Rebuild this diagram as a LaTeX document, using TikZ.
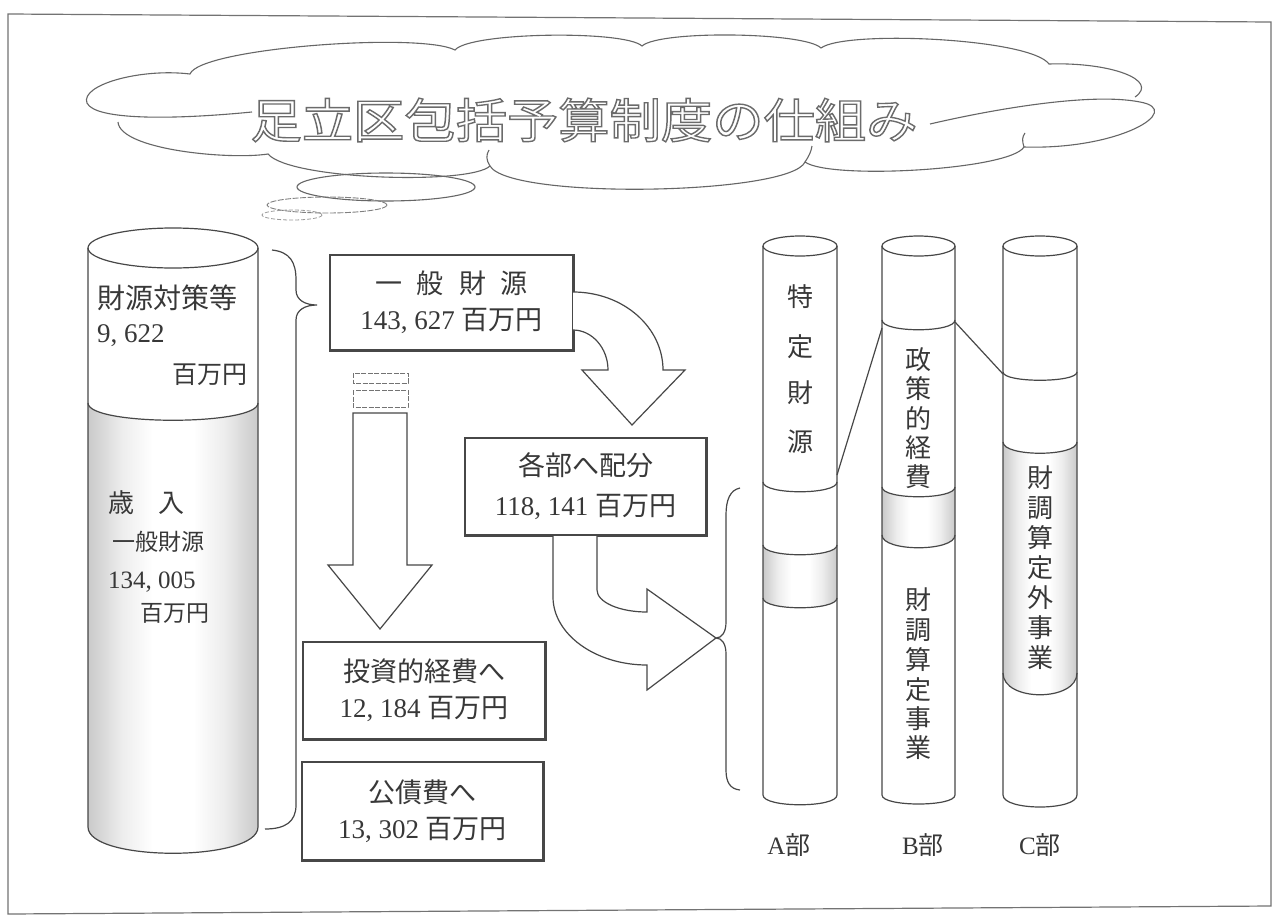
\documentclass[tikz,border=0pt]{standalone}
\usepackage{fontspec}
\setmainfont{Liberation Serif}
\newfontfamily\jp{Noto Sans CJK JP}
\usetikzlibrary{calc}
\newcommand\fsz[1]{\fontsize{#1}{#1}\selectfont}
\newcommand\titletext{\scalebox{1.14}[1.05]{\special{pdf:literal direct 1 Tr 1.3 w}足立区包括予算制度の仕組み\special{pdf:literal direct 0 Tr}}}
\pgfdeclarehorizontalshading{cylshade}{100bp}{color(0bp)=(black!21); color(25bp)=(black!21); color(35bp)=(black!7); color(44bp)=(white); color(56bp)=(white); color(65bp)=(black!7); color(75bp)=(black!21); color(100bp)=(black!21)}
\begin{document}
\begin{tikzpicture}[x=1pt,y=-1pt,
  ln/.style={draw=black!72,line width=1.2pt},
  cl/.style={draw=black!60,line width=1.1pt},
  tx/.style={text=black!78,inner sep=0pt},
  bx/.style={draw=black!72,line width=1.3pt,inner sep=0pt,align=center,text=black!78,font={\fontsize{27}{36}\selectfont}},
  shadowedge/.style={draw=black!72,line width=2.2pt},
  dashrect/.style={draw=black!55,line width=0.9pt,dash pattern=on 5pt off 1.5pt}]
\useasboundingbox (0,0) rectangle (1274,921);
\fill[white] (0,0) rectangle (1274,921);
% frame
\draw[black!55,line width=1.2pt] (8,14) -- (1271,22) -- (1271,906) -- (8,914) -- cycle;

% cloud
\draw[cl] (252,112) .. controls (170,120) and (95,120) .. (87,103)
  .. controls (80,85) and (140,68) .. (190,74)
  .. controls (200,48) and (420,32) .. (455,50)
  .. controls (470,32) and (625,30) .. (642,46)
  .. controls (660,30) and (805,32) .. (821,48)
  .. controls (845,30) and (1030,38) .. (1049,64)
  .. controls (1110,62) and (1160,80) .. (1135,97);
\draw[cl] (930,124) .. controls (990,110) and (1090,92) .. (1140,102)
  .. controls (1185,110) and (1120,150) .. (1024,147)
  .. controls (1010,170) and (830,180) .. (805,162)
  .. controls (790,195) and (510,200) .. (490,166)
  .. controls (470,185) and (290,180) .. (268,154)
  .. controls (230,160) and (120,150) .. (118,122);
\draw[cl] (805,162) .. controls (809,156) and (811,152) .. (812,146);
\draw[cl] (490,166) .. controls (486,160) and (486,155) .. (489,150);
\draw[cl] (1024,147) .. controls (1022,141) and (1022,137) .. (1025,133);
% thought bubbles
\draw[cl] (386,187) ellipse [x radius=89,y radius=14];
\draw[black!50,line width=0.9pt,dash pattern=on 6pt off 1.5pt] (327,205) ellipse [x radius=60,y radius=8];
\draw[black!40,line width=0.8pt,dash pattern=on 4pt off 2pt] (292,215) ellipse [x radius=30,y radius=5];
% title (outlined)
\node[inner sep=0pt,text=black!58,font={\fsz{45}\jp}] (title) at (584,120) {\titletext};

% left cylinder
\shade[shading=cylshade] (88,403) .. controls (88,426) and (258,426) .. (258,403) -- (258,827) .. controls (258,862) and (88,862) .. (88,827) -- cycle;
\draw[ln] (88,248) -- (88,827) .. controls (88,862) and (258,862) .. (258,827) -- (258,248);
\draw[ln] (173,248) ellipse [x radius=85,y radius=20];
\draw[ln] (88,403) .. controls (88,426) and (258,426) .. (258,403);
\node[tx,anchor=west,font={\fsz{28}\jp}] (zt) at (97,298) {財源対策等};
\node[tx,anchor=west,font=\fsz{27}] (zn) at (97,336) {9, 622};
\node[tx,anchor=east,font={\fsz{25}\jp}] (zu) at (248,375) {百万円};
\node[tx,anchor=west,font={\fsz{26}\jp}] (sa) at (108,503) {歳\hspace{24pt}入};
\node[tx,anchor=west,font={\fsz{23}\jp}] (sb) at (112,542) {一般財源};
\node[tx,anchor=west,font=\fsz{25}] (sn) at (108,582) {134, 005};
\node[tx,anchor=west,font={\fsz{23}\jp}] (su) at (140,613) {百万円};

% left brace
\draw[ln] (272,250) .. controls (290,252) and (296,262) .. (296,280) -- (296,290)
  .. controls (296,300) and (305,305) .. (317,305)
  .. controls (305,305) and (296,310) .. (296,320) -- (296,805)
  .. controls (296,822) and (285,829) .. (265,829);

% boxes
\node[bx,minimum width=243pt,minimum height=95pt] (gf) at (451.5,302.5) {{\jp 一\hspace{15pt}般\hspace{15pt}財\hspace{15pt}源}\\143, 627 {\jp 百万円}};
\node[bx,minimum width=241pt,minimum height=97pt] (kb) at (585.5,486.5) {{\jp 各部へ配分}\\[4pt]118, 141 {\jp 百万円}};
\node[bx,minimum width=242pt,minimum height=97pt] (ts) at (424,690.5) {{\jp 投資的経費へ}\\12, 184 {\jp 百万円}};
\node[bx,minimum width=241pt,minimum height=98pt] (ks) at (422.5,811) {{\jp 公債費へ}\\13, 302 {\jp 百万円}};
\foreach \n in {gf,kb,ts,ks}
  \draw[shadowedge] (\n.north east) -- (\n.south east) -- (\n.south west);

% straight down arrow
\draw[dashrect] (353,373) rectangle (408,383);
\draw[dashrect] (353,390) rectangle (408,407);
\draw[ln,fill=white] (353,413) -- (353,565) -- (328,565) -- (380,629) -- (432,565) -- (407,565) -- (407,413) -- cycle;

% curved arrow 1
\draw[ln,fill=white] (573,292) .. controls (623,292) and (663,327) .. (663,370) -- (685,370) -- (632,425) -- (582,370) -- (608,370) .. controls (608,348) and (592,330) .. (573,330);
% curved arrow 2
\draw[ln,fill=white] (553,536) -- (553,597) .. controls (553,634) and (595,665) .. (647,665) -- (647,690) -- (716,638) -- (647,589) -- (647,612) .. controls (619,612) and (597,602) .. (597,590) -- (597,536);

% right brace
\draw[ln] (740,488) .. controls (730,490) and (726,500) .. (726,515) -- (726,622)
  .. controls (726,632) and (722,638) .. (716,638)
  .. controls (722,638) and (726,644) .. (726,654) -- (726,770)
  .. controls (726,782) and (730,789) .. (740,790);

% column A
\shade[shading=cylshade] (763,545) .. controls (763,558) and (837,558) .. (837,545) -- (837,598) .. controls (837,611) and (763,611) .. (763,598) -- cycle;
\draw[ln] (763,246) -- (763,795) .. controls (763,808) and (837,808) .. (837,795) -- (837,246);
\draw[ln] (800,246) ellipse [x radius=37,y radius=10];
\draw[ln] (763,482) .. controls (763,495) and (837,495) .. (837,482);
\draw[ln] (763,545) .. controls (763,558) and (837,558) .. (837,545);
\draw[ln] (763,598) .. controls (763,611) and (837,611) .. (837,598);
% column B
\shade[shading=cylshade] (882,487) .. controls (882,500) and (955,500) .. (955,487) -- (955,535) .. controls (955,552) and (882,552) .. (882,535) -- cycle;
\draw[ln] (882,246) -- (882,795) .. controls (882,807) and (955,807) .. (955,795) -- (955,246);
\draw[ln] (918.5,246) ellipse [x radius=36.5,y radius=10];
\draw[ln] (882,320) .. controls (882,333) and (955,333) .. (955,320);
\draw[ln] (882,487) .. controls (882,500) and (955,500) .. (955,487);
\draw[ln] (882,535) .. controls (882,552) and (955,552) .. (955,535);
% column C
\shade[shading=cylshade] (1003,442) .. controls (1003,457) and (1077,457) .. (1077,442) -- (1077,673) .. controls (1077,702) and (1003,702) .. (1003,673) -- cycle;
\draw[ln] (1003,246) -- (1003,795) .. controls (1003,811) and (1077,811) .. (1077,795) -- (1077,246);
\draw[ln] (1040,246) ellipse [x radius=37,y radius=10];
\draw[ln] (1003,372) .. controls (1003,383) and (1077,383) .. (1077,372);
\draw[ln] (1003,442) .. controls (1003,457) and (1077,457) .. (1077,442);
\draw[ln] (1003,673) .. controls (1003,702) and (1077,702) .. (1077,673);
% link lines
\draw[ln] (837,475) -- (882,328);
\draw[ln] (955,322) -- (1003,374);

% column texts
\foreach \c/\y in {特/297,定/347,財/393,源/442}
  \node[tx,font={\fsz{26}\jp}] at (800,\y) {\c};
\foreach \c/\y in {政/360,策/389,的/418,経/448,費/477,財/600,調/630,算/660,定/690,事/719,業/748}
  \node[tx,font={\fsz{26}\jp}] at (918.5,\y) {\c};
\foreach \c/\y in {財/478,調/508,算/538,定/568,外/598,事/628,業/658}
  \node[tx,font={\fsz{26}\jp}] at (1040,\y) {\c};

% labels
\node[tx,font=\fsz{25}] (la) at (789,845) {A{\jp 部}};
\node[tx,font=\fsz{25}] (lb) at (923,845) {B{\jp 部}};
\node[tx,font=\fsz{25}] (lc) at (1040,845) {C{\jp 部}};
\end{tikzpicture}
\end{document}
